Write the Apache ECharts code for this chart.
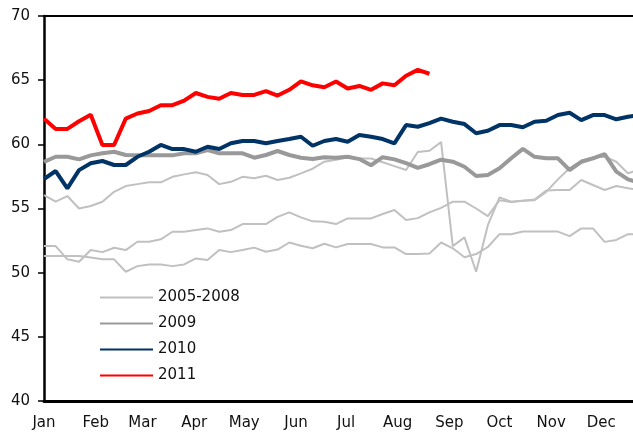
<!DOCTYPE html>
<html>
<head>
<meta charset="utf-8">
<script src="https://cdn.jsdelivr.net/npm/echarts@6/dist/echarts.min.js"></script>
<style>
  html, body { margin: 0; padding: 0; background: #fff; }
  #main { width: 633px; height: 437px; }
</style>
</head>
<body>
<div id="main"></div>
<script>
// weekly readings, one value per week starting first week of Jan
var months = ['Jan', 'Feb', 'Mar', 'Apr', 'May', 'Jun', 'Jul', 'Aug', 'Sep', 'Oct', 'Nov', 'Dec'];
var monthStartDay = [0, 31, 59, 90, 120, 151, 181, 212, 243, 273, 304, 334];

// 2005-2008 (three faint lines)
var hist1 = [56.05, 55.53, 55.97, 55.0, 55.19, 55.53, 56.3, 56.75, 56.9, 57.04, 57.04, 57.47, 57.66, 57.82, 57.61, 56.9,
    57.08, 57.47, 57.35, 57.55, 57.22, 57.4, 57.74, 58.1, 58.65, 58.8, 59.0, 58.9, 58.9, 58.6, 58.3, 58.0,
    59.4, 59.5, 60.17, 52.07, 52.75, 50.07, 53.7, 55.87, 55.53, 55.6, 55.65, 56.3, 57.27, 58.13, 58.72, 58.99,
    59.03, 58.64, 57.74, 58.05];
var hist2 = [52.07, 52.07, 51.04, 50.85, 51.76, 51.6, 51.94, 51.76, 52.41, 52.41, 52.6, 53.19, 53.19, 53.32, 53.45, 53.19,
    53.32, 53.79, 53.79, 53.79, 54.35, 54.7, 54.31, 54.0, 53.97, 53.79, 54.23, 54.23, 54.23, 54.57, 54.88, 54.1,
    54.25, 54.7, 55.05, 55.53, 55.53, 55.0, 54.41, 55.65, 55.5, 55.6, 55.7, 56.4, 56.44, 56.44, 57.22, 56.83,
    56.44, 56.75, 56.57, 56.44];
var hist3 = [51.3, 51.3, 51.3, 51.3, 51.19, 51.04, 51.04, 50.07, 50.51, 50.64, 50.64, 50.51, 50.64, 51.11, 50.98, 51.76,
    51.6, 51.76, 51.95, 51.63, 51.8, 52.35, 52.1, 51.9, 52.25, 51.97, 52.23, 52.23, 52.23, 51.97, 51.97, 51.45,
    51.45, 51.5, 52.35, 51.9, 51.2, 51.45, 52.0, 53.0, 53.0, 53.2, 53.2, 53.2, 53.2, 52.85, 53.45, 53.45,
    52.4, 52.55, 53.0, 53.0];
var y2009 = [58.64, 59.03, 59.03, 58.83, 59.14, 59.3, 59.42, 59.17, 59.14, 59.14, 59.14, 59.14, 59.3, 59.3, 59.56, 59.3,
    59.3, 59.3, 58.96, 59.17, 59.48, 59.17, 58.96, 58.85, 59.0, 58.96, 59.03, 58.85, 58.37, 59.0, 58.83, 58.53,
    58.16, 58.45, 58.8, 58.65, 58.25, 57.53, 57.61, 58.13, 58.91, 59.65, 59.03, 58.91, 58.91, 58.0, 58.64, 58.91,
    59.24, 57.87, 57.27, 57.0];
var y2010 = [57.3, 57.92, 56.57, 57.99, 58.52, 58.7, 58.39, 58.39, 59.03, 59.42, 59.95, 59.63, 59.63, 59.42, 59.81, 59.63,
    60.08, 60.26, 60.26, 60.08, 60.26, 60.41, 60.59, 59.89, 60.26, 60.41, 60.2, 60.72, 60.59, 60.41, 60.08, 61.5,
    61.37, 61.65, 62.0, 61.76, 61.58, 60.86, 61.06, 61.5, 61.5, 61.33, 61.76, 61.84, 62.28, 62.46, 61.89, 62.28,
    62.28, 61.95, 62.15, 62.3];
var y2011 = [62.0, 61.2, 61.2, 61.8, 62.3, 59.95, 59.95, 62.0, 62.4, 62.6, 63.05, 63.05, 63.4, 64.0, 63.7, 63.55,
    64.0, 63.85, 63.85, 64.15, 63.8, 64.25, 64.9, 64.6, 64.45, 64.9, 64.35, 64.55, 64.25, 64.75, 64.6, 65.35,
    65.8, 65.5];

function toPoints(arr) {
    return arr.map(function (v, i) { return [i, v]; });
}

var monthTicks = monthStartDay.map(function (d) { return d / 7; });

var chartDom = document.getElementById('main');
var myChart = echarts.init(chartDom);
var option;

var fontName = 'DejaVu Sans';

option = {
    animation: false,
    backgroundColor: '#fff',
    grid: {
        left: 44,
        right: 0,
        top: 16,
        bottom: 36
    },
    legend: {
        orient: 'vertical',
        left: 94,
        top: 285,
        itemWidth: 53,
        itemHeight: 14,
        itemGap: 11,
        itemStyle: { opacity: 0 },
        textStyle: { fontFamily: fontName, fontSize: 15, color: '#111' },
        data: ['2005-2008', '2009', '2010', '2011']
    },
    xAxis: [
        {
            type: 'value',
            min: 0,
            max: 353 / 7,
            axisLine: { lineStyle: { color: '#000', width: 3 } },
            axisTick: { show: false },
            splitLine: { show: false },
            axisLabel: {
                customValues: monthTicks,
                margin: 15,
                fontFamily: fontName,
                fontSize: 15,
                color: '#111',
                formatter: function (val) {
                    var idx = monthTicks.indexOf(val);
                    return idx >= 0 ? months[idx] : '';
                }
            }
        },
        {
            type: 'value',
            position: 'top',
            min: 0,
            max: 353 / 7,
            axisLine: { show: true, lineStyle: { color: '#000', width: 2 } },
            axisTick: { show: false },
            axisLabel: { show: false },
            splitLine: { show: false }
        }
    ],
    yAxis: {
        type: 'value',
        min: 40,
        max: 70,
        interval: 5,
        axisLine: { show: true, lineStyle: { color: '#000', width: 2.5 } },
        axisTick: { show: true, inside: false, length: 6, lineStyle: { color: '#000', width: 1.5 } },
        splitLine: { show: false },
        axisLabel: {
            margin: 14,
            fontFamily: fontName,
            fontSize: 15,
            color: '#111'
        }
    },
    series: [
        {
            name: '2005-2008', type: 'line', showSymbol: false, symbol: 'none',
            lineStyle: { color: '#c0c0c0', width: 2 }, itemStyle: { color: '#c0c0c0' },
            data: toPoints(hist1)
        },
        {
            name: '2005-2008', type: 'line', showSymbol: false, symbol: 'none',
            lineStyle: { color: '#c0c0c0', width: 2 }, itemStyle: { color: '#c0c0c0' },
            data: toPoints(hist2)
        },
        {
            name: '2005-2008', type: 'line', showSymbol: false, symbol: 'none',
            lineStyle: { color: '#c0c0c0', width: 2 }, itemStyle: { color: '#c0c0c0' },
            data: toPoints(hist3)
        },
        {
            name: '2009', type: 'line', showSymbol: false, symbol: 'none',
            lineStyle: { color: '#999999', width: 4 }, itemStyle: { color: '#999999' },
            data: toPoints(y2009)
        },
        {
            name: '2010', type: 'line', showSymbol: false, symbol: 'none',
            lineStyle: { color: '#003366', width: 4 }, itemStyle: { color: '#003366' },
            data: toPoints(y2010)
        },
        {
            name: '2011', type: 'line', showSymbol: false, symbol: 'none',
            lineStyle: { color: '#ff0000', width: 4 }, itemStyle: { color: '#ff0000' },
            data: toPoints(y2011)
        }
    ]
};

option && myChart.setOption(option);
</script>
</body>
</html>
